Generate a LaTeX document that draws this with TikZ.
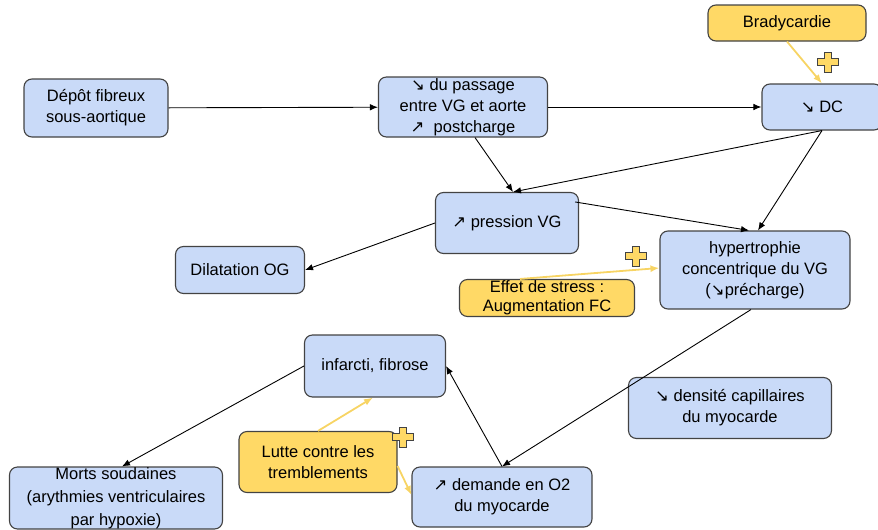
\documentclass[tikz,border=0pt]{standalone}
\usepackage{fontspec}
\setmainfont{Liberation Sans}
\newfontfamily\symfont{DejaVu Sans}
\usetikzlibrary{arrows.meta,calc}
\usepackage{xcolor}
\definecolor{boxblue}{HTML}{C9DAF8}
\definecolor{boxyellow}{HTML}{FFD966}
\definecolor{linkyellow}{HTML}{F7D464}
\definecolor{edge}{HTML}{434343}
\newcommand\decr{{\symfont\char"2198}}
\newcommand\incr{{\symfont\char"2197}}

\begin{document}
\begin{tikzpicture}[x=1pt,y=-1pt,
  every node/.style={font=\fontsize{16.5}{21}\selectfont,align=center,text=black},
  box/.style={draw=edge,line width=1.1pt,rounded corners=8pt,fill=boxblue,inner sep=0pt},
  note/.style={draw=edge,line width=1.1pt,rounded corners=8pt,fill=boxyellow,inner sep=0pt},
  link/.style={-{Latex[length=8pt,width=6.5pt]},line width=0.9pt,black},
  boost/.style={-{Latex[length=9pt,width=7pt]},line width=1.8pt,linkyellow},
  plusmark/.pic={\draw[edge,line width=1pt,fill=boxyellow]
    (-3.5,-10)--(3.5,-10)--(3.5,-3.5)--(10.5,-3.5)--(10.5,3.5)--(3.5,3.5)--(3.5,10)
    --(-3.5,10)--(-3.5,3.5)--(-10.5,3.5)--(-10.5,-3.5)--(-3.5,-3.5)--cycle;}]
\useasboundingbox (0,0) rectangle (878,530);

\node[note,minimum width=158,minimum height=36] (brady) at (787,23) {Bradycardie};
\node[box,minimum width=120,minimum height=46] (dc) at (822,107) {\decr{} DC};
\node[box,minimum width=144,minimum height=58] (depot) at (96,108) {Dépôt fibreux\\sous-aortique};
\node[box,minimum width=169,minimum height=60] (pass) at (463,107) {\decr{} du passage\\entre VG et aorte\\\incr{}\ \ postcharge};
\node[box,minimum width=143,minimum height=61] (pres) at (507,223) {\incr{} pression VG};
\node[box,minimum width=129,minimum height=47] (dil) at (240,270) {Dilatation OG};
\node[box,minimum width=190,minimum height=78] (hyp) at (755,270) {hypertrophie\\concentrique du VG\\(\decr{}précharge)};
\node[note,minimum width=175,minimum height=37,font=\fontsize{16.5}{19}\selectfont] (stress) at (547,298) {Effet de stress :\\Augmentation FC};
\node[box,minimum width=141,minimum height=62] (inf) at (375,366) {infarcti, fibrose};
\node[box,minimum width=203,minimum height=61] (dens) at (730,408) {\decr{} densité capillaires\\du myocarde};
\node[note,minimum width=158,minimum height=61] (lutte) at (318,462) {Lutte contre les\\tremblements};
\node[box,minimum width=180,minimum height=60] (dem) at (502,497) {\incr{} demande en O2\\du myocarde};
\node[box,minimum width=213,minimum height=62,font=\fontsize{16.5}{23}\selectfont] (morts) at (116,498) {Morts soudaines\\(arythmies ventriculaires\\par hypoxie)};

\draw[link] (depot) -- (pass);
\draw[link] (pass) -- (dc);
\draw[link] ($(pass.south)+(12,0)$) -- ($(pres.north)+(6,0)$);
\draw[link] (dc.south) -- ($(pres.north)+(6,0)$);
\draw[link] (dc.south) -- ($(hyp.north)+(3,0)$);
\draw[link] ($(pres.north east)+(-4,10)$) -- ($(hyp.north)+(-6,0)$);
\draw[link] (pres.west) -- (dil.east);
\draw[link] ($(hyp.south)+(-4,0)$) -- (dem.north);
\draw[link] (dem.north) -- (inf.east);
\draw[link] (inf.west) -- ($(morts.north)+(6,0)$);

\draw[boost] (brady.south) -- (dc.north);
\draw[boost] ($(stress.north)+(-27,0)$) -- ($(hyp.west)+(0,-2)$);
\draw[boost] (lutte.north) -- ($(inf.south)+(-2,0)$);
\draw[boost] ($(lutte.east)+(0,4)$) -- ($(dem.west)+(0,-2)$);

\pic at (828,62) {plusmark};
\pic at (636,256) {plusmark};
\pic at (403,437) {plusmark};
\end{tikzpicture}
\end{document}
